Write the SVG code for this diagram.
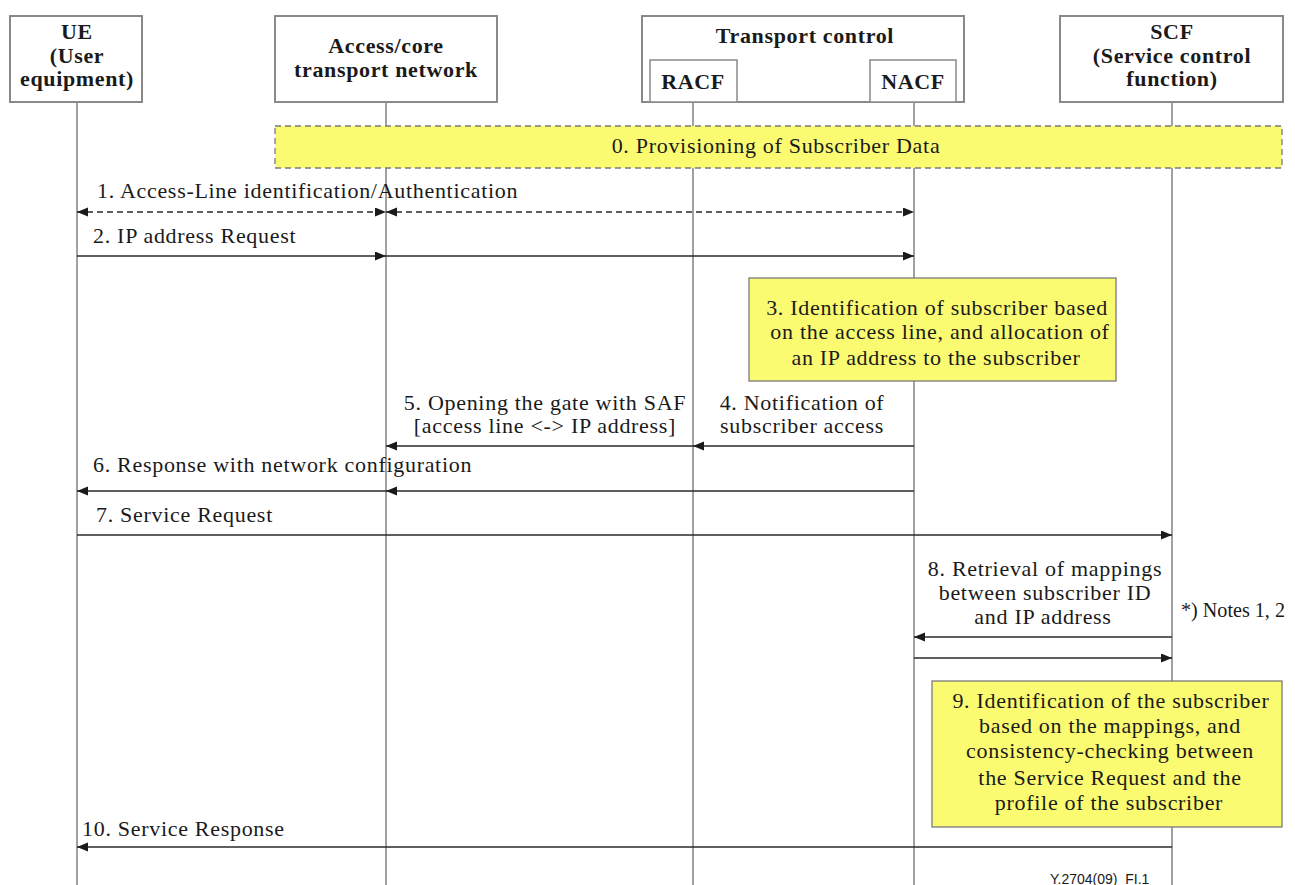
<svg xmlns="http://www.w3.org/2000/svg" width="1295" height="885" viewBox="0 0 1295 885">
  <style>
    .box { fill: #ffffff; stroke: #8a8a8a; stroke-width: 2; }
    .sub { fill: #ffffff; stroke: #8a8a8a; stroke-width: 1.5; }
    .life { stroke: #8a8a8a; stroke-width: 1.6; fill: none; }
    .note { fill: #fbfb72; stroke: #7a7a7a; stroke-width: 1.3; }
    .prov { fill: #fbfb72; stroke: #7a7a7a; stroke-width: 1.3; stroke-dasharray: 6 4; }
    .msg { stroke: #2a2a2a; stroke-width: 1.4; fill: none; marker-end: url(#ah); }
    .dash { stroke-dasharray: 6 4; marker-start: url(#ah); }
    .h { font-family: "Liberation Serif", "Times New Roman", serif; font-size: 22px; font-weight: bold; letter-spacing: 0.65px; fill: #1a1a1a; text-anchor: middle; }
    .t { font-family: "Liberation Serif", "Times New Roman", serif; font-size: 22px; letter-spacing: 0.7px; fill: #1a1a1a; }
    .c { text-anchor: middle; }
    .ref { font-family: "Liberation Sans", Arial, sans-serif; font-size: 14px; fill: #1a1a1a; }
  </style>
  <defs>
    <marker id="ah" markerUnits="userSpaceOnUse" markerWidth="11" markerHeight="10" refX="11" refY="4.5" orient="auto-start-reverse">
      <path d="M0,0 L11,4.5 L0,9 Z" fill="#1a1a1a"/>
    </marker>
  </defs>

  <rect width="1295" height="885" fill="#ffffff"/>

  <!-- lifelines -->
  <g id="lifelines">
    <line class="life" x1="77" y1="102" x2="77" y2="885"/>
    <line class="life" x1="386" y1="102" x2="386" y2="885"/>
    <line class="life" x1="693" y1="102" x2="693" y2="885"/>
    <line class="life" x1="914" y1="102" x2="914" y2="885"/>
    <line class="life" x1="1172" y1="102" x2="1172" y2="885"/>
  </g>

  <!-- participants -->
  <g id="ue">
    <rect class="box" x="10" y="16" width="132" height="86"/>
    <text class="h" x="77" y="39">UE</text>
    <text class="h" x="77" y="63">(User</text>
    <text class="h" x="77" y="86">equipment)</text>
  </g>
  <g id="access-core">
    <rect class="box" x="275" y="16" width="222" height="86"/>
    <text class="h" x="386" y="53">Access/core</text>
    <text class="h" x="386" y="77">transport network</text>
  </g>
  <g id="transport-control">
    <rect class="box" x="642" y="16" width="322" height="86"/>
    <text class="h" x="805" y="43">Transport control</text>
  </g>
  <g id="racf">
    <rect class="sub" x="650" y="60" width="87" height="42"/>
    <text class="h" x="693" y="89">RACF</text>
  </g>
  <g id="nacf">
    <rect class="sub" x="870" y="60" width="86" height="42"/>
    <text class="h" x="913" y="89">NACF</text>
  </g>
  <g id="scf">
    <rect class="box" x="1060" y="16" width="223" height="86"/>
    <text class="h" x="1172" y="39">SCF</text>
    <text class="h" x="1172" y="63">(Service control</text>
    <text class="h" x="1172" y="86">function)</text>
  </g>

  <!-- step 0 -->
  <g id="step0">
    <rect class="prov" x="275" y="126" width="1007" height="42"/>
    <text class="t c" x="776" y="153">0. Provisioning of Subscriber Data</text>
  </g>

  <!-- step 3 -->
  <g id="step3">
    <rect class="note" x="749" y="278" width="367" height="103"/>
    <text class="t c" x="937" y="315">3. Identification of subscriber based</text>
    <text class="t c" x="940" y="339">on the access line, and allocation of</text>
    <text class="t c" x="936" y="365">an IP address to the subscriber</text>
  </g>

  <!-- step 9 -->
  <g id="step9">
    <rect class="note" x="932" y="681" width="350" height="146"/>
    <text class="t c" x="1111" y="708">9. Identification of the subscriber</text>
    <text class="t c" x="1110" y="733">based on the mappings, and</text>
    <text class="t c" x="1110" y="758">consistency-checking between</text>
    <text class="t c" x="1110" y="785">the Service Request and the</text>
    <text class="t c" x="1109" y="810">profile of the subscriber</text>
  </g>

  <!-- messages -->
  <g id="connectors">
    <line class="msg dash" x1="77" y1="212" x2="386" y2="212"/>
    <line class="msg dash" x1="386" y1="212" x2="914" y2="212"/>
    <line class="msg" x1="77" y1="256" x2="386" y2="256"/>
    <line class="msg" x1="386" y1="256" x2="914" y2="256"/>
    <line class="msg" x1="914" y1="446" x2="693" y2="446"/>
    <line class="msg" x1="693" y1="446" x2="386" y2="446"/>
    <line class="msg" x1="914" y1="491" x2="386" y2="491"/>
    <line class="msg" x1="386" y1="491" x2="77" y2="491"/>
    <line class="msg" x1="77" y1="535" x2="1172" y2="535"/>
    <line class="msg" x1="1172" y1="637" x2="914" y2="637"/>
    <line class="msg" x1="914" y1="658" x2="1172" y2="658"/>
    <line class="msg" x1="1172" y1="847" x2="77" y2="847"/>
  </g>

  <!-- message labels -->
  <g id="labels">
    <text class="t" x="97" y="198">1. Access-Line identification/Authentication</text>
    <text class="t" x="93" y="243">2. IP address Request</text>
    <text class="t c" x="802" y="410">4. Notification of</text>
    <text class="t c" x="802" y="433">subscriber access</text>
    <text class="t c" x="545" y="410">5. Opening the gate with SAF</text>
    <text class="t c" x="545" y="433">[access line &lt;-&gt; IP address]</text>
    <text class="t" x="93" y="472">6. Response with network configuration</text>
    <text class="t" x="96" y="522">7. Service Request</text>
    <text class="t c" x="1045" y="576">8. Retrieval of mappings</text>
    <text class="t c" x="1045" y="600">between subscriber ID</text>
    <text class="t c" x="1043" y="624">and IP address</text>
    <text class="t" x="1181" y="617" textLength="104" lengthAdjust="spacingAndGlyphs" style="letter-spacing:0">*) Notes 1, 2</text>
    <text class="t" x="82" y="836">10. Service Response</text>
    <text class="ref" x="1050" y="884">Y.2704(09)_FI.1</text>
  </g>
</svg>
